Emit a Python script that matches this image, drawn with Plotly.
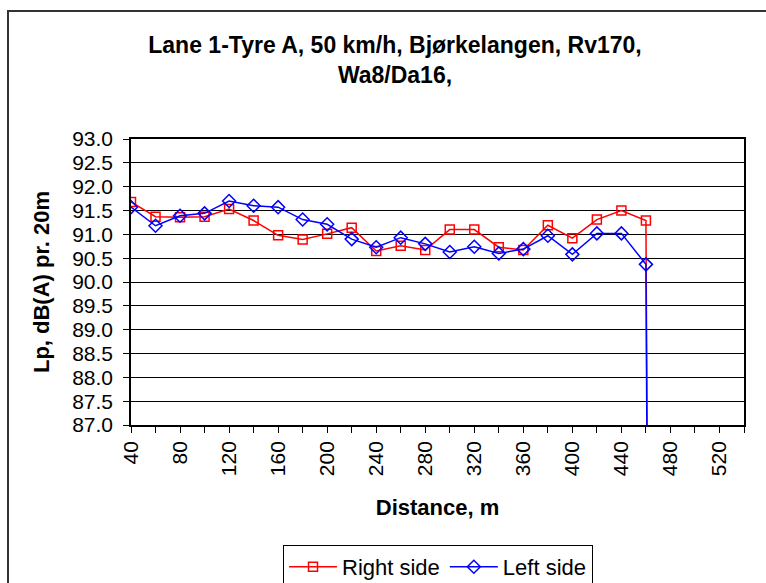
import plotly.graph_objects as go

distance = [40, 60, 80, 100, 120, 140, 160, 180, 200, 220, 240, 260, 280, 300,
            320, 340, 360, 380, 400, 420, 440, 460, 480]
right_side = [91.68, 91.37, 91.36, 91.37, 91.53, 91.29, 90.98, 90.89, 91.01, 91.14,
              90.65, 90.76, 90.67, 91.10, 91.10, 90.73, 90.67, 91.19, 90.92, 91.31,
              91.50, 91.29, 0.0]
left_side = [91.57, 91.18, 91.39, 91.44, 91.70, 91.60, 91.57, 91.31, 91.21, 90.90,
             90.73, 90.93, 90.80, 90.63, 90.74, 90.60, 90.69, 90.97, 90.58, 91.02,
             91.02, 90.37, 0.0]
y_ticks = [87.0, 87.5, 88.0, 88.5, 89.0, 89.5, 90.0, 90.5, 91.0, 91.5, 92.0, 92.5, 93.0]
x_ticks = [40, 80, 120, 160, 200, 240, 280, 320, 360, 400, 440, 480, 520]

FONT = "Liberation Sans, Arial, sans-serif"

fig = go.Figure()
fig.add_trace(go.Scatter(
    x=distance, y=right_side, name="Right side", mode="lines+markers",
    line=dict(color="#ff0000", width=1.5),
    marker=dict(symbol="square-open", size=9, color="#ff0000", line=dict(width=1.5)),
))
fig.add_trace(go.Scatter(
    x=distance, y=left_side, name="Left side", mode="lines+markers",
    line=dict(color="#0000ff", width=1.5),
    marker=dict(symbol="diamond-open", size=10, color="#0000ff", line=dict(width=1.5)),
))

L, R, T, B = 131, 22, 139, 158
W, H = 766, 583
pw = W - L - R
ph = H - T - B

def px(xp):
    return (xp - L) / pw

def py(yp):
    return (H - B - yp) / ph

fig.update_layout(
    width=W, height=H,
    margin=dict(l=L, r=R, t=T, b=B, autoexpand=False),
    paper_bgcolor="white", plot_bgcolor="white",
    font=dict(family=FONT, color="black", size=21),
    title=dict(
        text="<b>Lane 1-Tyre A, 50 km/h, Bjørkelangen, Rv170,<br>Wa8/Da16,</b>",
        x=px(395), xref="paper", xanchor="center",
        y=1 - 53 / H, yanchor="middle",
        font=dict(size=23, family=FONT, color="black"),
    ),
    showlegend=True,
    legend=dict(
        orientation="h", x=px(438), xanchor="center", y=py(545), yanchor="top",
        bordercolor="black", borderwidth=1, bgcolor="white",
        font=dict(size=22, family=FONT, color="black"),
        itemwidth=48, tracegroupgap=0,
    ),
    shapes=[dict(
        type="rect", xref="paper", yref="paper",
        x0=px(8), x1=px(800), y0=py(620), y1=py(11),
        line=dict(color="#333333", width=2), layer="below",
    )],
)
fig.update_xaxes(
    range=[40, 540], tickmode="array", tickvals=x_ticks, ticktext=[str(v) for v in x_ticks],
    tickangle=-90, ticks="outside", ticklen=6, tickcolor="black",
    minor=dict(dtick=20, tick0=40, ticks="outside", ticklen=6, tickcolor="black", showgrid=False),
    showgrid=False, showline=True, linecolor="black", linewidth=1.5, mirror=True,
    zeroline=False,
    tickfont=dict(size=21, family=FONT, color="black"),
    title=dict(text="<b>Distance, m</b>", font=dict(size=22, family=FONT, color="black"), standoff=24),
)
fig.update_yaxes(
    range=[87, 93], tickmode="array", tickvals=y_ticks, ticktext=[f"{v:.1f}" for v in y_ticks],
    ticks="outside", ticklen=6, tickcolor="black", ticklabelstandoff=6,
    showgrid=True, gridcolor="black", gridwidth=1,
    showline=True, linecolor="black", linewidth=1.5, mirror=True,
    zeroline=False,
    tickfont=dict(size=21, family=FONT, color="black"),
    title=dict(text="<b>Lp, dB(A) pr. 20m</b>", font=dict(size=22, family=FONT, color="black"), standoff=16),
)

fig.write_html("out.html", config={"displayModeBar": False},
               post_script="document.body.style.margin='0';document.body.style.overflow='hidden';")
